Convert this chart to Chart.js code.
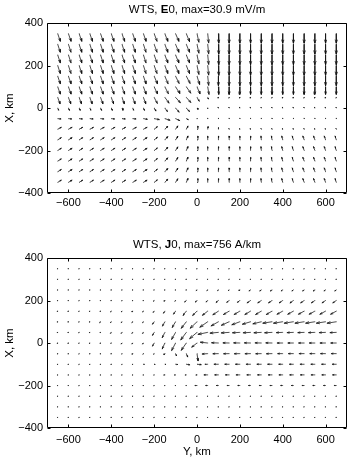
<!DOCTYPE html>
<html>
<head>
<meta charset="utf-8">
<script src="https://cdn.jsdelivr.net/npm/chart.js@4.4.1/dist/chart.umd.min.js"></script>
<style>
  body { margin: 0; background: #fff; }
  #wrap { position: relative; width: 351px; height: 459px; }
  canvas { position: absolute; left: 0; }
</style>
</head>
<body>
<div id="wrap">
  <canvas id="topChart" width="351" height="230" style="top:0;width:351px;height:230px"></canvas>
  <canvas id="botChart" width="351" height="229" style="top:230px;width:351px;height:229px"></canvas>
</div>
<script>
// grid: columns along Y (km, horizontal), rows along X (km, vertical)
const gridY = [-650, -600, -550, -500, -450, -400, -350, -300, -250, -200, -150, -100, -50, 0,
               50, 100, 150, 200, 250, 300, 350, 400, 450, 500, 550, 600, 650];
const gridX = [350, 300, 250, 200, 150, 100, 50, 0, -50, -100, -150, -200, -250, -300, -350];
const yTicks = [-600, -400, -200, 0, 200, 400, 600];
const xTicks = [-400, -200, 0, 200, 400];

// E0, mV/m (max 30.9)
const eU = [
  [8,8,8,8,8,8,8,8,8,9,9,10,10,6,3,1,0,0,0,0,0,0,0,0,0,0,0],
  [8,8,8,8,8,8,8,8,8,9,9,10,10,6,3,1,0,0,0,0,0,0,0,0,0,0,0],
  [8,8,8,8,8,8,8,8,8,9,9,10,10,6,3,1,0,0,0,0,0,0,0,0,0,0,0],
  [8,8,8,8,8,8,8,8,8,9,9,10,10,6,3,1,0,0,0,0,0,0,0,0,0,0,0],
  [8,8,8,8,8,8,8,8,8,10,10,11,12,8,3,0,0,0,0,0,0,0,0,0,0,0,0],
  [8,8,8,8,8,8,8,8,8,10,11,13,14,9,4,1,0,0,0,0,0,0,0,0,0,0,0],
  [7,7,7,7,7,7,7,7,7,10,13,15,14,7,2,-1,-1,-1,-1,-1,-1,-1,-1,-1,-1,-1,-1],
  [3,3,3,3,3,3,3,3,3,5,8,11,10,3,0,-1,-1,-1,-1,-1,-1,-1,-1,-1,-1,-1,-1],
  [10,10,10,10,10,10,10,10,12,16,16,13,6,1,0,0,0,0,0,0,0,0,0,0,0,0,0],
  [11,11,11,11,11,11,11,11,11,10,9,7,5,3,1,0,-1,-1,-1,-1,-1,-1,-1,-1,-1,-1,-1],
  [11,11,11,11,11,11,11,11,11,10,9,7,5,3,0,0,0,0,0,-1,-2,-3,-4,-4,-4,-4,-4],
  [11,11,11,11,11,11,11,11,11,10,9,7,5,3,0,0,0,0,0,-1,-2,-3,-4,-4,-4,-4,-4],
  [11,11,11,11,11,11,11,11,11,10,9,7,5,3,0,0,0,0,0,-1,-2,-3,-4,-4,-4,-4,-4],
  [11,11,11,11,11,11,11,11,11,10,9,7,5,3,0,0,0,0,0,-1,-2,-3,-4,-4,-4,-4,-4],
  [11,11,11,11,11,11,11,11,11,10,9,7,5,3,0,0,0,0,0,-1,-2,-3,-4,-4,-4,-4,-4]
];
const eV = [
  [-24,-24,-24,-24,-24,-24,-24,-24,-24,-24,-24,-24,-25,-27,-29,-30,-30,-30,-30,-30,-30,-30,-30,-30,-30,-30,-30],
  [-25,-25,-25,-25,-25,-25,-25,-25,-25,-25,-25,-25,-25,-28,-30,-31,-31,-31,-31,-31,-31,-31,-31,-31,-31,-31,-31],
  [-25,-25,-25,-25,-25,-25,-25,-25,-25,-25,-25,-25,-25,-28,-30,-31,-31,-31,-31,-31,-31,-31,-31,-31,-31,-31,-31],
  [-25,-25,-25,-25,-25,-25,-25,-25,-25,-25,-25,-25,-25,-28,-30,-31,-31,-31,-31,-31,-31,-31,-31,-31,-31,-31,-31],
  [-24,-24,-24,-24,-24,-24,-24,-24,-24,-24,-24,-23,-23,-26,-29,-30,-30,-30,-30,-30,-30,-30,-30,-30,-30,-30,-30],
  [-23,-23,-23,-23,-23,-23,-23,-23,-23,-22,-22,-21,-20,-22,-24,-24,-24,-24,-24,-24,-24,-24,-24,-24,-24,-24,-24],
  [-20,-20,-20,-20,-20,-20,-20,-20,-20,-19,-18,-17,-16,-12,-5,-2,-2,-2,-2,-2,-2,-2,-2,-2,-2,-2,-2],
  [-7,-7,-7,-7,-7,-7,-7,-7,-7,-9,-11,-13,-11,-4,-1,2,2,2,2,2,2,2,2,2,2,2,2],
  [-1,-1,-1,-1,-1,-1,-1,-1,-2,-3,-5,-6,-3,0,1,1,1,1,1,1,1,1,1,1,1,1,1],
  [6,6,6,6,6,6,6,6,6,8,9,10,10,10,8,5,2,2,2,2,2,2,2,2,2,2,2],
  [7,7,7,7,7,7,7,7,7,8,10,11,12,12,12,12,12,12,12,12,12,12,12,12,12,12,12],
  [7,7,7,7,7,7,7,7,7,8,10,11,12,12,12,12,12,12,12,12,12,12,12,12,12,12,12],
  [7,7,7,7,7,7,7,7,7,8,10,11,12,12,12,12,12,12,12,12,12,12,12,12,12,12,12],
  [7,7,7,7,7,7,7,7,7,8,10,11,12,12,12,12,12,12,12,12,12,12,12,12,12,12,12],
  [7,7,7,7,7,7,7,7,7,8,10,11,12,12,12,12,12,12,12,12,12,12,12,12,12,12,12]
];

// J0, A/km (max 756)
const jU = [
  [-20,-20,-20,-20,-20,-20,-20,-20,-20,-20,-20,-20,-20,-20,-20,-20,-20,-20,-20,-20,-20,-20,-20,-20,-20,-20,-20],
  [-20,-20,-20,-20,-20,-20,-20,-20,-20,-20,-20,-20,-20,-20,-20,-20,-20,-20,-20,-20,-20,-20,-20,-20,-20,-20,-20],
  [-20,-20,-20,-20,-20,-20,-20,-20,-20,-20,-20,-20,-20,-60,-60,-60,-60,-60,-110,-110,-110,-110,-110,-110,-110,-110,-110],
  [-20,-20,-20,-20,-20,-20,-20,-20,-20,-50,-50,-50,-120,-120,-120,-180,-180,-180,-260,-260,-260,-260,-260,-260,-260,-260,-260],
  [-30,-30,-30,-30,-30,-50,-50,-50,-50,-70,-100,-150,-250,-330,-400,-420,-430,-430,-430,-430,-430,-430,-430,-430,-430,-430,-430],
  [-30,-30,-30,-30,-60,-60,-60,-60,-60,-120,-180,-260,-380,-520,-600,-560,-590,-610,-620,-640,-700,-700,-700,-700,-700,-700,-700],
  [-30,-30,-30,-30,-30,-60,-60,-60,-60,-120,-200,-300,-420,-560,-740,-640,-600,-560,-560,-560,-560,-480,-480,-480,-480,-480,-480],
  [-30,-30,-30,-30,-30,-30,-60,-60,-60,-120,-200,-300,-380,-400,-560,-520,-470,-470,-470,-470,-470,-420,-420,-420,-420,-420,-420],
  [-20,-20,-20,-20,-20,-20,-20,-40,-40,-40,-60,60,100,80,-420,-420,-420,-420,-420,-420,-420,-380,-380,-380,-380,-380,-380],
  [-20,-20,-20,-20,-20,-20,-20,-20,60,60,60,150,260,320,-200,-330,-330,-330,-330,-330,-330,-300,-300,-300,-300,-300,-300],
  [-20,-20,-20,-20,-20,-20,-20,-20,-20,-20,-80,-80,-80,-80,-280,-280,-280,-280,-280,-280,-280,-280,-280,-280,-280,-280,-280],
  [-20,-20,-20,-20,-20,-20,-20,-20,-20,-20,-20,-20,-20,-150,-150,-150,-150,-150,-150,-150,-150,-150,-150,-150,-150,-150,-150],
  [-20,-20,-20,-20,-20,-20,-20,-20,-20,-20,-20,-20,-20,-20,-20,-20,-20,-20,-20,-20,-20,-20,-20,-20,-20,-20,-20],
  [-20,-20,-20,-20,-20,-20,-20,-20,-20,-20,-20,-20,-20,-20,-20,-20,-20,-20,-20,-20,-20,-20,-20,-20,-20,-20,-20],
  [-20,-20,-20,-20,-20,-20,-20,-20,-20,-20,-20,-20,-20,-20,-20,-20,-20,-20,-20,-20,-20,-20,-20,-20,-20,-20,-20]
];
const jV = [
  [-10,-10,-10,-10,-10,-10,-10,-10,-10,-10,-10,-10,-10,-10,-10,-10,-10,-10,-10,-10,-10,-10,-10,-10,-10,-10,-10],
  [-10,-10,-10,-10,-10,-10,-10,-10,-10,-10,-10,-10,-10,-10,-10,-10,-10,-10,-10,-10,-10,-10,-10,-10,-10,-10,-10],
  [-10,-10,-10,-10,-10,-10,-10,-10,-10,-10,-10,-10,-10,-50,-50,-50,-50,-50,-80,-80,-80,-80,-80,-80,-80,-80,-80],
  [-15,-15,-15,-15,-15,-15,-15,-15,-15,-50,-50,-50,-110,-110,-110,-140,-140,-140,-180,-180,-180,-180,-180,-180,-180,-180,-180],
  [-20,-20,-20,-20,-20,-50,-50,-50,-50,-90,-150,-220,-320,-330,-320,-280,-260,-260,-260,-260,-260,-240,-240,-240,-240,-240,-240],
  [-20,-20,-20,-20,-60,-60,-60,-60,-60,-180,-320,-430,-500,-500,-420,-320,-270,-230,-190,-160,-110,-110,-110,-110,-110,-110,-110],
  [-20,-20,-20,-20,-20,-70,-70,-70,-70,-220,-400,-540,-580,-480,-150,-60,-40,-30,-30,-30,-30,-20,-20,-20,-20,-20,-20],
  [-20,-20,-20,-20,-20,-20,-70,-70,-70,-230,-450,-580,-560,-320,60,20,10,10,10,10,10,0,0,0,0,0,0],
  [-20,-20,-20,-20,-20,-20,-20,-40,-40,-40,-80,-150,-250,-550,-30,-10,-10,-10,-10,-10,-10,0,0,0,0,0,0],
  [-15,-15,-15,-15,-15,-15,-15,-15,-10,-10,-10,-20,-40,-30,0,0,0,0,0,0,0,0,0,0,0,0,0],
  [-10,-10,-10,-10,-10,-10,-10,-10,-10,-10,-10,-10,-10,-10,0,0,0,0,0,0,0,0,0,0,0,0,0],
  [-10,-10,-10,-10,-10,-10,-10,-10,-10,-10,-10,-10,-10,0,0,0,0,0,0,0,0,0,0,0,0,0,0],
  [-10,-10,-10,-10,-10,-10,-10,-10,-10,-10,-10,-10,-10,-10,-10,-10,-10,-10,-10,-10,-10,-10,-10,-10,-10,-10,-10],
  [-10,-10,-10,-10,-10,-10,-10,-10,-10,-10,-10,-10,-10,-10,-10,-10,-10,-10,-10,-10,-10,-10,-10,-10,-10,-10,-10],
  [-10,-10,-10,-10,-10,-10,-10,-10,-10,-10,-10,-10,-10,-10,-10,-10,-10,-10,-10,-10,-10,-10,-10,-10,-10,-10,-10]
];

const eMax = 30.9;
const jMax = 756;
const topTitle = [['WTS, ', false], ['E', true], ['0, max=30.9 mV/m', false]];
const botTitle = [['WTS, ', false], ['J', true], ['0, max=756 A/km', false]];

const FONT = '"Liberation Sans", Arial, sans-serif';
const arrowKm = 46;     // longest arrow, km
const headA = 0.33, headB = 0.33;

// quiver-like segments, broken by null points
function quiver(U, V, maxVal) {
  const k = arrowKm / maxVal;
  const pts = [];
  gridX.forEach((gx, r) => {
    gridY.forEach((gy, c) => {
      const u = U[r][c] * k, v = V[r][c] * k;
      const hx = gy + u, hy = gx + v;
      pts.push({x: gy, y: gx}, {x: hx, y: hy}, {x: null, y: null});
      pts.push({x: hx - headA * (u + headB * v), y: hy - headA * (v - headB * u)},
               {x: hx, y: hy},
               {x: hx - headA * (u - headB * v), y: hy - headA * (v + headB * u)},
               {x: null, y: null});
    });
  });
  return pts;
}

const fmt = v => (v < 0 ? '\u2212' + Math.abs(v) : String(v));

// box with inward ticks on all four sides
const framePlugin = {
  id: 'frame',
  afterDatasetsDraw(chart) {
    const {ctx, chartArea: a, scales: {x, y}} = chart;
    const L = a.left + 0.5, R = a.right - 0.5, T = a.top + 0.5, B = a.bottom - 0.5, tl = 3;
    ctx.save();
    ctx.strokeStyle = '#000';
    ctx.lineWidth = 1;
    ctx.beginPath();
    ctx.rect(L, T, R - L, B - T);
    yTicks.forEach(v => {
      const px = Math.round(x.getPixelForValue(v)) + 0.5;
      ctx.moveTo(px, B); ctx.lineTo(px, B - tl);
      ctx.moveTo(px, T); ctx.lineTo(px, T + tl);
    });
    xTicks.forEach(v => {
      const py = Math.round(y.getPixelForValue(v)) + 0.5;
      ctx.moveTo(L, py); ctx.lineTo(L + tl, py);
      ctx.moveTo(R, py); ctx.lineTo(R - tl, py);
    });
    ctx.stroke();
    ctx.restore();
  }
};

// title with a bold letter in it
const titlePlugin = {
  id: 'mixTitle',
  afterDraw(chart, args, o) {
    const ctx = chart.ctx, a = chart.chartArea;
    const reg = o.size + 'px ' + FONT, bold = 'bold ' + o.size + 'px ' + FONT;
    ctx.save();
    let w = 0;
    o.parts.forEach(p => { ctx.font = p[1] ? bold : reg; w += ctx.measureText(p[0]).width; });
    let px = (a.left + a.right) / 2 - w / 2;
    ctx.fillStyle = '#000';
    ctx.textBaseline = 'middle';
    o.parts.forEach(p => {
      ctx.font = p[1] ? bold : reg;
      ctx.fillText(p[0], px, o.y);
      px += ctx.measureText(p[0]).width;
    });
    ctx.restore();
  }
};

function makeChart(id, U, V, maxVal, opts) {
  return new Chart(document.getElementById(id), {
    type: 'scatter',
    data: {
      datasets: [{
        data: quiver(U, V, maxVal),
        showLine: true,
        spanGaps: false,
        borderColor: '#111',
        borderWidth: 0.75,
        borderCapStyle: 'round',
        borderJoinStyle: 'round',
        pointRadius: 0,
        pointHoverRadius: 0
      }]
    },
    options: {
      responsive: false,
      animation: false,
      events: [],
      layout: {padding: {top: opts.top, right: 4, bottom: 0, left: 0}},
      plugins: {
        legend: {display: false},
        tooltip: {enabled: false},
        mixTitle: {parts: opts.title, size: 11.5, y: opts.titleY}
      },
      scales: {
        x: {
          type: 'linear', min: -700, max: 700,
          grid: {display: false, drawTicks: false, tickLength: 0}, border: {display: false},
          afterBuildTicks: s => { s.ticks = yTicks.map(v => ({value: v})); },
          afterFit: s => { s.height = opts.xh; },
          ticks: {font: {family: FONT, size: 11}, color: '#000', padding: opts.xpad,
                  maxRotation: 0, autoSkip: false, callback: fmt},
          title: {display: !!opts.xlabel, text: opts.xlabel || '', color: '#000',
                  font: {family: FONT, size: 11.5}, padding: {top: 0, bottom: 0}}
        },
        y: {
          type: 'linear', min: -400, max: 400,
          grid: {display: false, drawTicks: false, tickLength: 0}, border: {display: false},
          afterBuildTicks: s => { s.ticks = xTicks.map(v => ({value: v})); },
          afterFit: s => { s.width = 47; },
          ticks: {font: {family: FONT, size: 11}, color: '#000', padding: 4, callback: fmt},
          title: {display: true, text: 'X, km', color: '#000',
                  font: {family: FONT, size: 11.5}, padding: {top: 3, bottom: 0}}
        }
      }
    },
    plugins: [framePlugin, titlePlugin]
  });
}

makeChart('topChart', eU, eV, eMax, {top: 23, xh: 37, xpad: 3, title: topTitle, titleY: 10});
makeChart('botChart', jU, jV, jMax, {top: 28, xh: 31, xpad: 5, title: botTitle, titleY: 15, xlabel: 'Y, km'});
</script>
</body>
</html>
